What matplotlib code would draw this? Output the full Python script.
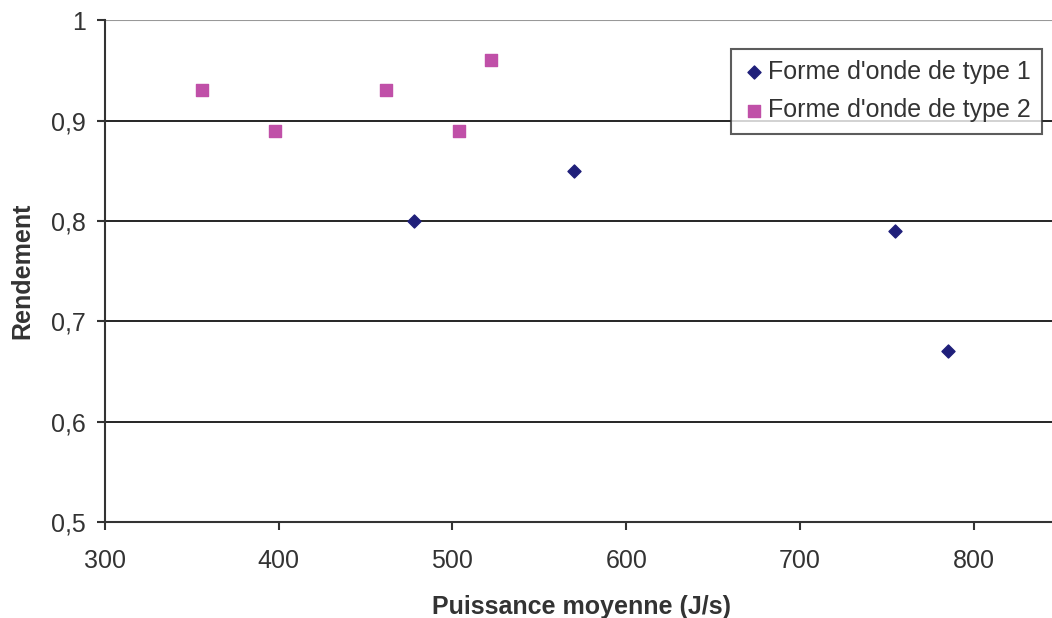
import matplotlib.pyplot as plt
from matplotlib.ticker import FuncFormatter

plt.rcParams['font.family'] = ['Liberation Sans', 'DejaVu Sans']

# ---- Data ----
type1_x = [478, 570, 755, 785]
type1_y = [0.80, 0.85, 0.79, 0.67]
type2_x = [356, 398, 462, 504, 522]
type2_y = [0.93, 0.89, 0.93, 0.89, 0.96]
x_ticks = [300, 400, 500, 600, 700, 800]
y_ticks = [0.5, 0.6, 0.7, 0.8, 0.9, 1.0]

fig = plt.figure(figsize=(10.52, 6.18), dpi=100)
ax = fig.add_axes([0.0998, 0.155, 0.905, 0.8125])

for y in y_ticks[1:-1]:
    ax.axhline(y, color="black", lw=1.2, zorder=1)
ax.axhline(1.0, color="#999999", lw=1.5, zorder=1)

ax.scatter(type1_x, type1_y, marker="D", s=44, color="#1f1f7a",
           label="Forme d'onde de type 1", zorder=3)
ax.scatter(type2_x, type2_y, marker="s", s=70, color="#c050a8",
           label="Forme d'onde de type 2", zorder=3)

ax.set_xlim(300, 848)
ax.set_ylim(0.5, 1.0)
ax.set_xticks(x_ticks)
ax.set_yticks(y_ticks)
ax.yaxis.set_major_formatter(FuncFormatter(
    lambda v, p: "1" if abs(v - 1) < 1e-9 else f"{v:.1f}".replace(".", ",")))

for s in ["top", "right"]:
    ax.spines[s].set_visible(False)
for s in ["left", "bottom"]:
    ax.spines[s].set_color("#333333")
    ax.spines[s].set_linewidth(1.5)
ax.tick_params(direction="out", length=6, width=1.5, color="#333333",
               labelsize=18, labelcolor="#333333", pad=8)
ax.tick_params(axis="x", pad=13)

ax.set_xlabel("Puissance moyenne (J/s)", fontsize=18, fontweight="bold",
              color="#333333", labelpad=16)
ax.set_ylabel("Rendement", fontsize=18, fontweight="bold",
              color="#333333", labelpad=12)

leg = ax.legend(loc="upper left", bbox_to_anchor=(0.658, 0.943), fontsize=18,
                frameon=True, fancybox=False, handletextpad=0.1,
                borderpad=0.45, labelspacing=0.58, handlelength=0.9,
                borderaxespad=0, labelcolor="#333333")
leg.get_frame().set_edgecolor("#333333")
leg.get_frame().set_linewidth(1.5)

fig.savefig("out.png", dpi=100)
